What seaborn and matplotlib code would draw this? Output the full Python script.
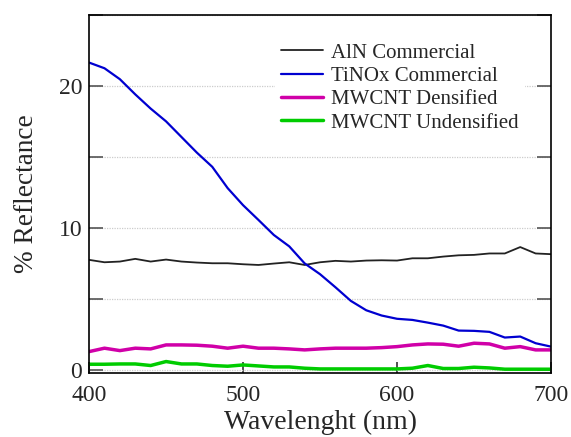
import numpy as np
import pandas as pd
import matplotlib
matplotlib.use("Agg")
import matplotlib.pyplot as plt
from matplotlib.ticker import MultipleLocator
import seaborn as sns

# Wavelength grid (nm)
wavelength = list(range(400, 701, 10))

# Reflectance (%) of each coating
aln_commercial = [7.75, 7.58, 7.63, 7.82, 7.63, 7.77, 7.63, 7.56, 7.51, 7.51,
                  7.44, 7.39, 7.49, 7.58, 7.39, 7.58, 7.68, 7.63, 7.70, 7.72,
                  7.70, 7.86, 7.86, 7.98, 8.07, 8.10, 8.20, 8.20, 8.65, 8.20, 8.15]
tinox_commercial = [21.64, 21.24, 20.47, 19.40, 18.40, 17.50, 16.40, 15.30, 14.30, 12.80,
                    11.60, 10.56, 9.50, 8.70, 7.50, 6.74, 5.82, 4.86, 4.20, 3.83,
                    3.60, 3.52, 3.33, 3.12, 2.77, 2.75, 2.68, 2.28, 2.35, 1.88, 1.64]
mwcnt_densified = [1.29, 1.53, 1.36, 1.53, 1.48, 1.76, 1.76, 1.74, 1.67, 1.53,
                   1.67, 1.53, 1.53, 1.48, 1.41, 1.48, 1.53, 1.53, 1.53, 1.57,
                   1.64, 1.76, 1.83, 1.81, 1.67, 1.88, 1.83, 1.53, 1.64, 1.41, 1.41]
mwcnt_undensified = [0.40, 0.40, 0.42, 0.42, 0.31, 0.59, 0.42, 0.42, 0.31, 0.26,
                     0.35, 0.28, 0.21, 0.21, 0.12, 0.07, 0.07, 0.07, 0.07, 0.07,
                     0.07, 0.12, 0.31, 0.10, 0.10, 0.19, 0.14, 0.05, 0.05, 0.05, 0.05]

series_names = ["AlN Commercial", "TiNOx Commercial", "MWCNT Densified", "MWCNT Undensified"]
series_values = [aln_commercial, tinox_commercial, mwcnt_densified, mwcnt_undensified]
series_colors = ["#222222", "#0000d0", "#d000a8", "#00cc00"]
series_widths = [1.3, 1.6, 2.5, 2.5]

df = pd.concat(
    [pd.DataFrame({"Wavelength": wavelength, "Reflectance": vals, "Sample": name})
     for name, vals in zip(series_names, series_values)],
    ignore_index=True,
)

sns.set_style("white")
plt.rcParams["font.family"] = ["Liberation Serif", "DejaVu Serif"]

fig = plt.figure(figsize=(5.71, 4.37), dpi=100)
ax = fig.add_axes([0.156, 0.147, 0.809, 0.819])

for name, color, lw in zip(series_names, series_colors, series_widths):
    sns.lineplot(data=df[df["Sample"] == name], x="Wavelength", y="Reflectance",
                 color=color, linewidth=lw, label=name, ax=ax)

ax.set_xlim(400, 700)
ax.set_ylim(-0.2, 25)
ax.xaxis.set_major_locator(MultipleLocator(100))
ax.yaxis.set_major_locator(MultipleLocator(10))
ax.yaxis.set_minor_locator(MultipleLocator(5))

ax.grid(True, which="both", axis="y", linestyle=(0, (1, 1)), color="#cccccc", linewidth=0.9)
ax.set_axisbelow(True)

ax.tick_params(axis="y", which="both", direction="in", length=10, width=1.2,
               color="#555555", left=True, right=True, labelsize=17, pad=5)
ax.tick_params(axis="x", which="both", direction="in", length=8, width=1.2,
               color="#333333", bottom=True, top=False, labelsize=17, pad=9)
for side in ax.spines.values():
    side.set_color("black")
    side.set_linewidth(1.2)

ax.set_xlabel("Wavelenght (nm)", fontsize=20, labelpad=2.5)
ax.set_ylabel("% Reflectance", fontsize=19.6, labelpad=14)

leg = ax.legend(loc="upper left", bbox_to_anchor=(0.403, 0.939), frameon=True,
                fontsize=15, handlelength=2.0, handletextpad=0.4, labelspacing=0.18,
                borderaxespad=0.0, borderpad=0.3, fancybox=False)
leg.get_frame().set_edgecolor("none")
leg.get_frame().set_facecolor("white")
leg.get_frame().set_alpha(1.0)

fig.savefig("out.png", dpi=100)
